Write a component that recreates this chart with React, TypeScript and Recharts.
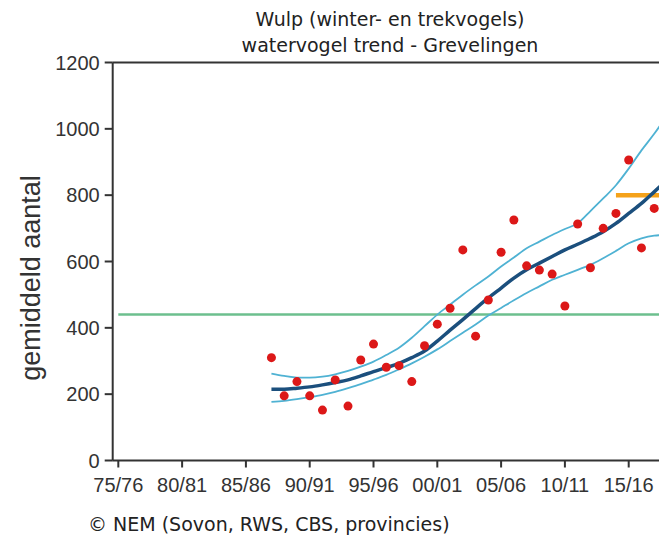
import {
  ComposedChart,
  Line,
  ReferenceLine,
  XAxis,
  YAxis,
} from "recharts"

// winter seasons, 1987 = 87/88
const seasons = [
  1987, 1988, 1989, 1990, 1991, 1992, 1993, 1994, 1995, 1996, 1997, 1998,
  1999, 2000, 2001, 2002, 2003, 2004, 2005, 2006, 2007, 2008, 2009, 2010,
  2011, 2012, 2013, 2014, 2015, 2016, 2017, 2018,
]
const counts = [
  310, 195, 238, 195, 152, 243, 164, 303, 351, 281, 286, 238, 346, 411, 459,
  635, 375, 484, 628, 725, 587, 574, 562, 466, 713, 581, 700, 745, 906, 641,
  760, 929,
]
const trend = [
  215, 215, 218, 222, 228, 235, 243, 255, 268, 280, 293, 310, 330, 360, 393,
  425, 458, 490, 520, 550, 575, 595, 615, 635, 652, 670, 690, 715, 745, 775,
  810, 846,
]
const upper = [
  262, 255, 250, 250, 253, 260, 270, 283, 298, 318, 340, 370, 405, 440, 470,
  500, 528, 555, 585, 612, 640, 660, 680, 698, 715, 752, 790, 830, 880, 935,
  985, 1040,
]
const lower = [
  177, 180, 185, 191, 198, 207, 218, 230, 244, 258, 275, 293, 313, 335, 360,
  385, 410, 437, 460, 483, 505, 525, 545, 560, 575, 590, 610, 632, 655, 670,
  678, 680,
]
const xTicks = [1975, 1980, 1985, 1990, 1995, 2000, 2005, 2010, 2015]
const yTicks = [0, 200, 400, 600, 800, 1000, 1200]
const longTermMean = 440
const targetValue = 800
const targetFrom = 2014

const data = seasons.map((year, i) => ({
  year,
  count: counts[i],
  trend: trend[i],
  upper: upper[i],
  lower: lower[i],
}))

const seasonLabel = (y: number) => {
  const a = String(y % 100).padStart(2, "0")
  const b = String((y + 1) % 100).padStart(2, "0")
  return `${a}/${b}`
}

const axisColor = "#333"
const titleFont = "'DejaVu Sans', sans-serif"

export default function App() {
  return (
    <div
      style={{
        position: "relative",
        width: 659,
        height: 535,
        overflow: "hidden",
        background: "#fff",
      }}
    >
      <div
        style={{
          position: "absolute",
          left: 382,
          top: 24,
          transform: "translate(-50%, -50%)",
          fontFamily: titleFont,
          fontSize: 19,
          lineHeight: "26px",
          color: "#222",
          textAlign: "center",
          whiteSpace: "nowrap",
        }}
      >
        <div>Wulp (winter- en trekvogels)</div>
        <div>watervogel trend - Grevelingen</div>
      </div>

      <div
        style={{
          position: "absolute",
          left: 23,
          top: 270,
          transform: "translate(-50%, -50%) rotate(-90deg)",
          fontFamily: "'Liberation Sans', Arial, sans-serif",
          fontSize: 27,
          color: "#333",
          whiteSpace: "nowrap",
        }}
      >
        gemiddeld aantal
      </div>

      <ComposedChart
        width={700}
        height={535}
        data={data}
        margin={{ top: 54.5, right: 15.5, bottom: 42.5, left: 44.7 }}
        style={{ position: "absolute", left: 0, top: 0 }}
      >
        <XAxis
          dataKey="year"
          type="number"
          domain={[1974.56, 2020]}
          allowDataOverflow
          ticks={xTicks}
          tickFormatter={seasonLabel}
          interval={0}
          height={40}
          axisLine={{ stroke: axisColor, strokeWidth: 2 }}
          tickLine={{ stroke: axisColor, strokeWidth: 2 }}
          tickSize={7}
          tickMargin={10}
          tick={{
            fill: "#333",
            fontSize: 20,
            fontFamily: "'Liberation Sans', Arial, sans-serif",
          }}
        />
        <YAxis
          type="number"
          domain={[0, 1200]}
          ticks={yTicks}
          interval={0}
          width={60}
          axisLine={{ stroke: axisColor, strokeWidth: 2 }}
          tickLine={{ stroke: axisColor, strokeWidth: 2 }}
          tickSize={8}
          tickMargin={5}
          tick={{
            fill: "#333",
            fontSize: 20,
            fontFamily: "'Liberation Sans', Arial, sans-serif",
          }}
        />
        <ReferenceLine y={1200} stroke={axisColor} strokeWidth={2} />
        <ReferenceLine
          segment={[
            { x: 1975, y: longTermMean },
            { x: 2020, y: longTermMean },
          ]}
          stroke="#6cbf8e"
          strokeWidth={2.5}
        />
        <ReferenceLine
          segment={[
            { x: targetFrom, y: targetValue },
            { x: 2020, y: targetValue },
          ]}
          stroke="#f5a21a"
          strokeWidth={4.5}
        />
        <Line
          dataKey="upper"
          type="monotone"
          stroke="#4fb2d3"
          strokeWidth={1.8}
          dot={false}
          activeDot={false}
          isAnimationActive={false}
        />
        <Line
          dataKey="lower"
          type="monotone"
          stroke="#4fb2d3"
          strokeWidth={1.8}
          dot={false}
          activeDot={false}
          isAnimationActive={false}
        />
        <Line
          dataKey="trend"
          type="monotone"
          stroke="#1b4f7d"
          strokeWidth={3.5}
          dot={false}
          activeDot={false}
          isAnimationActive={false}
        />
        <Line
          dataKey="count"
          stroke="none"
          dot={{ r: 4.5, fill: "#dc1818", stroke: "none" }}
          activeDot={false}
          isAnimationActive={false}
        />
      </ComposedChart>

      <div
        style={{
          position: "absolute",
          left: 80,
          top: 505,
          fontFamily: titleFont,
          fontSize: 19,
          color: "#222",
          whiteSpace: "nowrap",
        }}
      >
        © NEM (Sovon, RWS, CBS, provincies)
      </div>
    </div>
  )
}
